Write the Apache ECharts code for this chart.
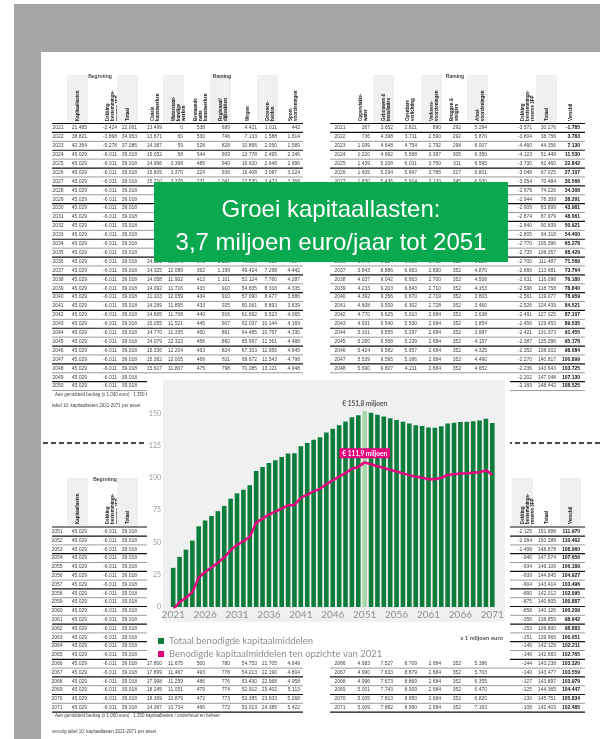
<!DOCTYPE html>
<html>
<head>
<meta charset="utf-8">
<script src="https://cdn.jsdelivr.net/npm/echarts@6/dist/echarts.min.js"></script>
<style>
  html, body { margin: 0; padding: 0; background: #fff; }
  #chart { width: 600px; height: 739px; }
</style>
</head>
<body>
<div id="chart"></div>
<script>
// jaren op de x-as
var years = ['2021','2022','2023','2024','2025','2026','2027','2028','2029','2030',
             '2031','2032','2033','2034','2035','2036','2037','2038','2039','2040',
             '2041','2042','2043','2044','2045','2046','2047','2048','2049','2050',
             '2051','2052','2053','2054','2055','2056','2057','2058','2059','2060',
             '2061','2062','2063','2064','2065','2066','2067','2068','2069','2070','2071'];
// totaal benodigde kapitaalmiddelen (x 1 miljoen euro)
var totaal = [30.3, 38.8, 44.4, 51.4, 62.5, 67.0, 70.5, 74.2, 78.3, 83.9,
              88.0, 90.8, 94.3, 105.4, 108.4, 111.5, 113.7, 116.1, 118.8, 119.1,
              124.4, 127.0, 129.5, 131.4, 135.1, 138.0, 140.8, 143.6, 147.0, 148.4,
              151.9, 150.4, 148.9, 147.6, 146.1, 144.8, 143.4, 142.0, 140.8, 140.1,
              138.9, 138.8, 140.0, 142.1, 142.7, 143.2, 143.5, 143.9, 144.4, 145.8, 142.4];
// benodigde kapitaalmiddelen ten opzichte van 2021
var verschil = [-1.8, 3.8, 7.1, 11.5, 22.8, 27.1, 30.6, 34.3, 38.3, 44.0,
                48.1, 50.9, 54.4, 65.3, 68.4, 71.6, 73.8, 76.2, 78.8, 79.0,
                84.5, 87.1, 89.5, 91.5, 95.2, 98.1, 100.9, 103.7, 107.1, 108.5,
                112.0, 110.5, 109.0, 107.7, 106.2, 104.9, 103.5, 102.1, 100.9, 100.2,
                98.9, 98.9, 100.1, 102.2, 102.8, 103.3, 103.6, 104.0, 104.4, 105.8, 102.5];
var piekJaar = '2051';
var piekLabelTotaal = '€ 151,8 miljoen';
var piekLabelVerschil = '€ 111,9 miljoen';
var yTicks = [0, 25, 50, 75, 100, 125, 150];

var bannerRegels = ['Groei kapitaallasten:', '3,7 miljoen euro/jaar tot 2051'];

// tabellen op de achtergrond
var tlHead = ['Kapitaallasten', 'Dekking\nbestemmings-\nreserve 3FP', 'Totaal', 'Civiele\nkunstwerken',
              'Waterstaat-\nkundige\nwerken', 'Bestaande\nnatte\nkunstwerken', 'Regionaal/\ndijkvakken',
              'Wegen', 'Groenen-\nheiden', 'Sport-\nvoorzieningen'];
var trHead = ['Oppervlakte-\nwater', 'Gebouwen &\ninstallaties', 'Openbare\nverlichting', 'Verkeers-\nvoorzieningen',
              'Bruggen &\nsteigers', 'Afval-\nvoorzieningen', 'Dekking\nbestemmings-\nreserve 3FP', 'Totaal', 'Verschil'];
var tlRows = [
  ['2021','21.485','-2.424','22.061','13.499','0','538','689','4.421','1.011','442'],
  ['2022','38.821','-3.868','34.953','13.871','60','530','746','7.133','1.588','1.814'],
  ['2023','42.364','-5.278','37.086','14.387','59','528','828','10.896','2.050','1.589'],
  ['2024','45.029','-6.011','39.018','15.052','58','544','909','13.778','2.495','2.346'],
  ['2025','45.029','-6.011','39.018','14.996','3.368','485','940','16.620','2.648','2.696'],
  ['2026','45.029','-6.011','39.018','15.805','3.370','224','936','19.408','3.087','3.224'],
  ['2027','45.029','-6.011','39.018','15.710','3.376','231','1.041','22.530','3.473','3.368'],
  ['2028','45.029','-6.011','39.018'],
  ['2029','45.029','-6.011','39.018'],
  ['2030','45.029','-6.011','39.018'],
  ['2031','45.029','-6.011','39.018'],
  ['2032','45.029','-6.011','39.018'],
  ['2033','45.029','-6.011','39.018'],
  ['2034','45.029','-6.011','39.018'],
  ['2035','45.029','-6.011','39.018'],
  ['2036','45.029','-6.011','39.018','14.501','12.276','371','1.258','46.653','7.010','4.394'],
  ['2037','45.029','-6.011','39.018','14.325','12.089','392','1.199','49.424','7.298','4.442'],
  ['2038','45.029','-6.011','39.018','14.058','11.902','413','1.101','52.124','7.760','4.287'],
  ['2039','45.029','-6.011','39.018','14.092','11.716','433','910','54.835','8.316','4.335'],
  ['2040','45.029','-6.011','39.018','11.103','12.059','434','910','57.090','8.477','3.886'],
  ['2041','45.029','-6.011','39.018','14.269','11.895','433','925','60.061','8.893','3.839'],
  ['2042','45.029','-6.011','39.018','14.665','11.708','440','916','61.562','9.523','4.065'],
  ['2043','45.029','-6.011','39.018','15.055','11.521','445','907','62.037','10.144','4.169'],
  ['2044','45.029','-6.011','39.018','14.770','11.335','450','891','64.485','10.757','4.330'],
  ['2045','45.029','-6.011','39.018','14.079','12.323','456','860','65.997','11.361','4.488'],
  ['2046','45.029','-6.011','39.018','15.336','12.204','463','824','67.303','11.956','4.645'],
  ['2047','45.029','-6.011','39.018','15.362','12.005','469','811','68.672','12.543','4.798'],
  ['2048','45.029','-6.011','39.018','15.617','11.807','475','798','70.085','13.121','4.948'],
  ['2049','45.029','-6.011','39.018'],
  ['2050','45.029','-6.011','39.018']
];
var trRows = [
  ['2021','367','3.652','2.821','890','292','5.294','-3.571','30.276','-1.785'],
  ['2022','736','4.398','3.711','2.590','292','5.870','-3.804','38.756','3.783'],
  ['2023','1.099','4.648','4.754','2.792','298','6.007','-4.460','44.356','7.130'],
  ['2024','1.220','4.992','5.568','3.397','305','6.350','-4.123','51.448','11.530'],
  ['2025','1.439','5.208','6.031','3.760','311','6.595','-3.730','62.460','22.842'],
  ['2026','1.605','5.294','5.947','3.785','317','6.801','-3.048','67.025','27.107'],
  ['2027','1.830','5.436','5.914','3.130','345','6.930','-3.054','70.484','30.566'],
  ['2028','','','','','','','-2.979','74.226','34.308'],
  ['2029','','','','','','','-2.944','78.309','38.291'],
  ['2030','','','','','','','-2.909','83.899','43.981'],
  ['2031','','','','','','','-2.874','87.979','48.061'],
  ['2032','','','','','','','-2.840','90.839','50.921'],
  ['2033','','','','','','','-2.805','94.318','54.400'],
  ['2034','','','','','','','-2.770','105.396','65.278'],
  ['2035','','','','','','','-2.735','108.357','68.429'],
  ['2036','3.643','9.214','6.606','2.710','352','5.220','-2.700','111.487','71.569'],
  ['2037','3.843','8.886','6.663','2.690','352','4.870','-2.666','113.681','73.764'],
  ['2038','4.037','9.042','6.663','2.700','352','4.508','-2.631','116.098','76.180'],
  ['2039','4.233','9.203','6.643','2.710','352','4.153','-2.596','118.758','78.840'],
  ['2040','4.392','9.356','6.670','2.719','352','3.803','-2.561','119.077','78.959'],
  ['2041','4.608','9.509','6.302','2.728','352','3.460','-2.526','124.439','84.521'],
  ['2042','4.770','9.625','5.010','2.684','352','3.638','-2.491','127.025','87.107'],
  ['2043','4.931','9.540','5.530','2.684','352','3.854','-2.456','129.453','89.535'],
  ['2044','5.101','9.555','5.297','2.684','352','3.987','-2.421','131.373','91.455'],
  ['2045','5.260','9.568','5.239','2.684','352','4.157','-2.387','135.096','95.178'],
  ['2046','5.424','9.582','5.657','2.684','352','4.325','-2.352','138.002','98.084'],
  ['2047','5.539','9.595','5.066','2.684','352','4.490','-2.270','140.817','100.899'],
  ['2048','5.690','9.607','4.211','2.684','352','4.652','-2.236','143.643','103.725'],
  ['2049','','','','','','','-2.202','147.048','107.130'],
  ['2050','','','','','','','-2.169','148.442','108.525']
];
var blRows = [
  ['2051','45.029','-6.011','39.018'], ['2052','45.029','-6.011','39.018'], ['2053','45.029','-6.011','39.018'],
  ['2054','45.029','-6.011','39.018'], ['2055','45.029','-6.011','39.018'], ['2056','45.029','-6.011','39.018'],
  ['2057','45.029','-6.011','39.018'], ['2058','45.029','-6.011','39.018'], ['2059','45.029','-6.011','39.018'],
  ['2060','45.029','-6.011','39.018'], ['2061','45.029','-6.011','39.018'], ['2062','45.029','-6.011','39.018'],
  ['2063','45.029','-6.011','39.018'], ['2064','45.029','-6.011','39.018'], ['2065','45.029','-6.011','39.018'],
  ['2066','45.029','-6.011','39.018','17.800','11.675','500','780','54.753','21.705','4.649'],
  ['2067','45.029','-6.011','39.018','17.899','11.467','493','778','54.213','22.190','4.804'],
  ['2068','45.029','-6.011','39.018','17.998','11.259','486','776','53.430','22.968','4.958'],
  ['2069','45.029','-6.011','39.018','18.245','11.051','479','774','52.912','23.402','5.113'],
  ['2070','45.029','-6.011','39.018','18.369','10.879','472','773','52.385','23.933','5.268'],
  ['2071','45.029','-6.011','39.018','14.367','10.734','466','772','53.013','24.385','5.422']
];
var brRows = [
  ['2051','','','','','','','-2.125','151.888','111.970'],
  ['2052','','','','','','','-2.064','150.389','110.462'],
  ['2053','','','','','','','-1.499','148.878','108.960'],
  ['2054','','','','','','','-946','147.574','107.656'],
  ['2055','','','','','','','-934','146.106','106.189'],
  ['2056','','','','','','','-939','144.845','104.927'],
  ['2057','','','','','','','-904','143.414','103.496'],
  ['2058','','','','','','','-890','142.012','102.095'],
  ['2059','','','','','','','-875','140.805','100.887'],
  ['2060','','','','','','','-858','140.126','100.209'],
  ['2061','','','','','','','-356','138.859','98.942'],
  ['2062','','','','','','','-153','138.800','98.883'],
  ['2063','','','','','','','-151','139.969','100.051'],
  ['2064','','','','','','','-149','142.129','102.211'],
  ['2065','','','','','','','-146','142.683','102.765'],
  ['2066','4.983','7.527','8.709','2.684','352','5.386','-144','143.238','103.320'],
  ['2067','4.990','7.633','8.879','2.684','352','5.703','-140','143.477','103.559'],
  ['2068','4.996','7.673','8.869','2.684','352','6.355','-127','143.897','103.979'],
  ['2069','5.001','7.743','8.909','2.684','352','6.470','-125','144.365','104.447'],
  ['2070','5.005','7.813','8.950','2.684','352','6.820','-130','145.751','105.834'],
  ['2071','5.009','7.882','8.990','2.684','352','7.163','-108','142.403','102.485']
];

var tableFont = '"Liberation Sans", sans-serif';
var leftCols = [87, 117, 137, 162, 183, 205, 230, 257, 277, 300];
var rightCols = [370, 393, 417, 441, 461, 487, 532, 556, 580];

function tableText(rows, y0, step, yearX, cols, x0, x1, boldLast) {
  var out = [];
  rows.forEach(function (r, i) {
    var y = y0 + i * step;
    out.push({ type: 'text', z: 0, x: yearX, y: y,
      style: { text: r[0], fill: '#444', font: '5px ' + tableFont, align: 'center', verticalAlign: 'middle' } });
    for (var c = 1; c < r.length; c++) {
      if (!r[c]) continue;
      var bold = boldLast && c === r.length - 1;
      out.push({ type: 'text', z: 0, x: cols[c - 1], y: y,
        style: { text: r[c], fill: bold ? '#111' : '#444',
                 font: (bold ? 'bold ' : '') + '5px ' + tableFont, align: 'right', verticalAlign: 'middle' } });
    }
    out.push({ type: 'line', z: 0,
      shape: { x1: x0, y1: y + step / 2, x2: x1, y2: y + step / 2 },
      style: { stroke: i % 2 ? '#555' : '#111', lineWidth: i % 2 ? 0.6 : 1.2 } });
  });
  return out;
}

function headerText(names, cols, yBottom, shadeFrom) {
  var out = [];
  names.forEach(function (n, i) {
    var x = cols[i] - 12;
    if (i % 2 === shadeFrom) {
      out.push({ type: 'rect', z: 0, shape: { x: cols[i] - 20, y: yBottom - 46, width: 21, height: 48 },
        style: { fill: '#eef0f1' } });
    }
    out.push({ type: 'text', z: 0, x: x, y: yBottom, rotation: Math.PI / 2,
      style: { text: n, fill: '#222', font: 'bold 4.5px ' + tableFont, align: 'left', verticalAlign: 'top', lineHeight: 5 } });
  });
  return out;
}

function smallText(t, x, y, align, font) {
  return { type: 'text', z: 0, x: x, y: y,
    style: { text: t, fill: '#444', font: font || ('4.5px ' + tableFont), align: align || 'left', verticalAlign: 'middle' } };
}

var graphics = [];
// grijze rand
graphics.push({ type: 'rect', z: 0, shape: { x: 14, y: 4, width: 586, height: 48 }, style: { fill: '#a6a6a6' } });
graphics.push({ type: 'rect', z: 0, shape: { x: 14, y: 4, width: 27, height: 735 }, style: { fill: '#a6a6a6' } });

// koppen bovenste tabellen
graphics = graphics.concat(headerText(tlHead, leftCols, 121, 0));
graphics = graphics.concat(headerText(trHead, rightCols, 121, 1));
graphics.push(smallText('Begroting', 100, 77, 'center', 'bold 5px ' + tableFont));
graphics.push(smallText('Raming', 222, 77, 'center', 'bold 5px ' + tableFont));
graphics.push(smallText('Raming', 455, 77, 'center', 'bold 5px ' + tableFont));
graphics.push({ type: 'line', z: 0, shape: { x1: 52, y1: 123.5, x2: 303, y2: 123.5 }, style: { stroke: '#111', lineWidth: 1.2 } });
graphics.push({ type: 'line', z: 0, shape: { x1: 330, y1: 123.5, x2: 585, y2: 123.5 }, style: { stroke: '#111', lineWidth: 1.2 } });

graphics = graphics.concat(tableText(tlRows, 128, 8.9, 58, leftCols, 52, 303, false));
graphics = graphics.concat(tableText(trRows, 128, 8.9, 340, rightCols, 330, 585, true));
graphics.push(smallText('Aan gemiddeld bedrag (x 1.000 euro)   1.350 kapitaallasten', 55, 395));
graphics.push(smallText('tabel 10: kapitaallasten 2021-2071 per asset', 52, 406));

// koppen onderste tabellen
graphics = graphics.concat(headerText(tlHead.slice(0, 4), leftCols.slice(0, 4), 524, 0));
graphics = graphics.concat(headerText(trHead.slice(6), rightCols.slice(6), 524, 0));
graphics.push(smallText('Begroting', 105, 480, 'center', 'bold 5px ' + tableFont));
graphics.push({ type: 'line', z: 0, shape: { x1: 52, y1: 527, x2: 303, y2: 527 }, style: { stroke: '#111', lineWidth: 1.2 } });
graphics.push({ type: 'line', z: 0, shape: { x1: 330, y1: 527, x2: 585, y2: 527 }, style: { stroke: '#111', lineWidth: 1.2 } });
graphics = graphics.concat(tableText(blRows, 531.7, 8.8, 57, leftCols, 52, 303, false));
graphics = graphics.concat(tableText(brRows, 531.7, 8.8, 340, rightCols, 330, 585, true));
graphics.push(smallText('Aan gemiddeld bedrag (x 1.000 euro)   1.350 kapitaallasten / onderhoud en beheer', 55, 716));
graphics.push(smallText('vervolg tabel 10: kapitaallasten 2021-2071 per asset', 52, 732));

// stippellijn tussen de pagina's
graphics.push({ type: 'line', z: 0, shape: { x1: 43, y1: 443, x2: 600, y2: 443 },
  style: { stroke: '#111', lineWidth: 1.3, lineDash: [5, 3] } });

// witte achtergrond van de grafiek en grijs plotvlak
graphics.push({ type: 'rect', z: 1, shape: { x: 147, y: 374, width: 363, height: 286 }, style: { fill: '#ffffff' } });
graphics.push({ type: 'rect', z: 1, shape: { x: 163, y: 380, width: 342, height: 242 }, style: { fill: '#eff1f1' } });
graphics.push({ type: 'text', z: 3, x: 503, y: 638,
  style: { text: 'x 1 miljoen euro', fill: '#555', font: 'bold 6px Lato', align: 'right', verticalAlign: 'middle' } });

// groene balk
graphics.push({ type: 'rect', z: 5, shape: { x: 154, y: 182, width: 354, height: 80 }, style: { fill: '#0aa84f' } });
graphics.push({ type: 'text', z: 6, x: 331, y: 210,
  style: { text: bannerRegels[0], fill: '#fff', font: '24px "Liberation Sans", Arial, sans-serif', align: 'center', verticalAlign: 'middle' } });
graphics.push({ type: 'text', z: 6, x: 331, y: 243,
  style: { text: bannerRegels[1], fill: '#fff', font: '24px "Liberation Sans", Arial, sans-serif', align: 'center', verticalAlign: 'middle' } });

var barData = totaal.map(function (v, i) {
  if (years[i] !== piekJaar) return v;
  return { value: v, itemStyle: { color: '#a9d6a9' },
    label: { show: true, position: 'top', distance: 3, formatter: piekLabelTotaal,
             fontSize: 6.5, fontWeight: 'bold', color: '#555', fontFamily: 'Lato' } };
});
var lineData = verschil.map(function (v, i) {
  if (years[i] !== piekJaar) return v;
  return { value: v,
    label: { show: true, position: 'top', distance: 4, formatter: piekLabelVerschil,
             fontSize: 6.5, fontWeight: 'bold', color: '#fff', fontFamily: 'Lato',
             backgroundColor: '#e5007d', padding: [2, 3, 1, 3] } };
});

var dom = document.getElementById('chart');
var myChart = echarts.init(dom);
var option = {
  animation: false,
  backgroundColor: '#ffffff',
  grid: { left: 170, right: 104.5, top: 381, bottom: 132 },
  legend: {
    z: 4,
    orient: 'vertical', left: 153, top: 631, itemGap: 3, itemWidth: 6, itemHeight: 6,
    textStyle: { fontSize: 9.5, color: '#8e8e8e', fontFamily: 'Lato' },
    data: [
      { name: 'Totaal benodigde kapitaalmiddelen', icon: 'rect' },
      { name: 'Benodigde kapitaalmiddelen ten opzichte van 2021', icon: 'rect' }
    ]
  },
  xAxis: {
    type: 'category', data: years, z: 3,
    axisLine: { show: false }, axisTick: { show: false },
    axisLabel: { interval: 4, margin: 3, color: '#8e8e8e', fontSize: 10, fontFamily: 'Lato' }
  },
  yAxis: {
    type: 'value', min: 0, max: 175, interval: 25, z: 3,
    splitLine: { show: false },
    axisLabel: {
      margin: 9, color: '#9a9a9a', fontSize: 7, fontFamily: 'Lato',
      formatter: function (v) { return yTicks.indexOf(v) >= 0 ? String(v) : ''; }
    }
  },
  series: [
    {
      name: 'Totaal benodigde kapitaalmiddelen',
      type: 'bar',
      barCategoryGap: '28%',
      itemStyle: { color: '#0d7d3b' },
      data: barData
    },
    {
      name: 'Benodigde kapitaalmiddelen ten opzichte van 2021',
      type: 'line',
      symbol: 'circle', symbolSize: 0, showSymbol: true,
      lineStyle: { width: 2.5, color: '#e5007d' },
      itemStyle: { color: '#e5007d' },
      data: lineData
    }
  ],
  graphic: graphics
};
myChart.setOption(option, true);
</script>
</body>
</html>
